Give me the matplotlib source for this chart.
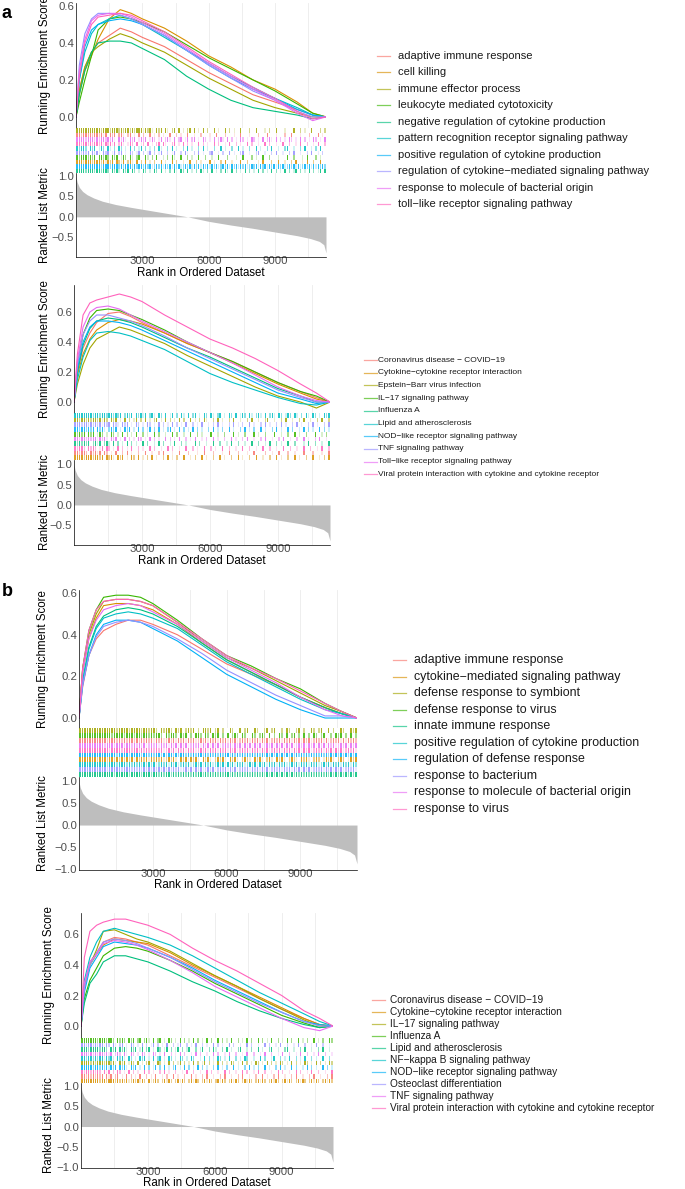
import matplotlib.pyplot as plt
from matplotlib.colors import to_rgba
from matplotlib.lines import Line2D

plt.rcParams['font.family'] = ['Liberation Sans', 'DejaVu Sans']

W, H = 685, 1189
N_GENES = 11300

# ggplot default hue palette for 10 groups
hue10 = ["#F8766D", "#D89000", "#A3A500", "#39B600", "#00BF7D",
         "#00BFC4", "#00B0F6", "#9590FF", "#E76BF3", "#FF62BC"]

es_ranks = [0, 150, 400, 700, 1000, 1500, 2000, 2500, 3000,
            4000, 5000, 6000, 7000, 8000, 9000, 10000, 10700, 11300]

# ranked list metric (same ranked list for every panel)
metric_ranks = [0, 50, 150, 300, 500, 800, 1200, 1800, 2500, 3500, 4500,
                5050, 6000, 7000, 8000, 9000, 10000, 10600, 11000, 11200, 11300]
metric_vals = [0.98, 0.85, 0.72, 0.62, 0.54, 0.46, 0.38, 0.30, 0.23, 0.14, 0.05,
               0.0, -0.11, -0.20, -0.28, -0.37, -0.46, -0.53, -0.60, -0.68, -0.88]

terms_a1 = ["adaptive immune response", "cell killing", "immune effector process",
            "leukocyte mediated cytotoxicity",
            "negative regulation of cytokine production",
            "pattern recognition receptor signaling pathway",
            "positive regulation of cytokine production",
            "regulation of cytokine\u2212mediated signaling pathway",
            "response to molecule of bacterial origin",
            "toll\u2212like receptor signaling pathway"]
terms_a2 = ["Coronavirus disease \u2212 COVID\u221219",
            "Cytokine\u2212cytokine receptor interaction",
            "Epstein\u2212Barr virus infection", "IL\u221217 signaling pathway",
            "Influenza A", "Lipid and atherosclerosis",
            "NOD\u2212like receptor signaling pathway", "TNF signaling pathway",
            "Toll\u2212like receptor signaling pathway",
            "Viral protein interaction with cytokine and cytokine receptor"]
terms_b1 = ["adaptive immune response", "cytokine\u2212mediated signaling pathway",
            "defense response to symbiont", "defense response to virus",
            "innate immune response", "positive regulation of cytokine production",
            "regulation of defense response", "response to bacterium",
            "response to molecule of bacterial origin", "response to virus"]
terms_b2 = ["Coronavirus disease \u2212 COVID\u221219",
            "Cytokine\u2212cytokine receptor interaction",
            "IL\u221217 signaling pathway", "Influenza A", "Lipid and atherosclerosis",
            "NF\u2212kappa B signaling pathway",
            "NOD\u2212like receptor signaling pathway",
            "Osteoclast differentiation", "TNF signaling pathway",
            "Viral protein interaction with cytokine and cytokine receptor"]

# running enrichment scores, one row per term (legend order)
es_a1 = [
    [0, 0.15, 0.27, 0.35, 0.40, 0.44, 0.48, 0.46, 0.43, 0.38, 0.31, 0.24, 0.18, 0.12, 0.08, 0.04, 0.01, 0],
    [0, 0.12, 0.25, 0.33, 0.42, 0.53, 0.58, 0.56, 0.53, 0.48, 0.41, 0.33, 0.27, 0.20, 0.15, 0.08, 0.02, 0],
    [0, 0.14, 0.27, 0.35, 0.38, 0.42, 0.45, 0.43, 0.40, 0.35, 0.28, 0.21, 0.15, 0.09, 0.05, 0.02, 0.00, 0],
    [0, 0.08, 0.20, 0.33, 0.47, 0.53, 0.54, 0.53, 0.51, 0.46, 0.39, 0.32, 0.26, 0.20, 0.14, 0.07, 0.02, 0],
    [0, 0.12, 0.25, 0.35, 0.40, 0.41, 0.41, 0.40, 0.37, 0.31, 0.22, 0.15, 0.09, 0.05, 0.03, 0.01, -0.01, 0],
    [0, 0.20, 0.35, 0.45, 0.50, 0.53, 0.55, 0.53, 0.50, 0.43, 0.36, 0.29, 0.22, 0.16, 0.10, 0.05, 0.01, 0],
    [0, 0.20, 0.38, 0.47, 0.50, 0.52, 0.53, 0.52, 0.50, 0.44, 0.36, 0.28, 0.21, 0.15, 0.10, 0.04, 0.01, 0],
    [0, 0.28, 0.45, 0.53, 0.56, 0.56, 0.55, 0.53, 0.50, 0.44, 0.36, 0.28, 0.21, 0.14, 0.09, 0.03, 0.00, 0],
    [0, 0.25, 0.42, 0.52, 0.55, 0.56, 0.56, 0.54, 0.51, 0.45, 0.37, 0.29, 0.22, 0.15, 0.09, 0.02, -0.02, 0],
    [0, 0.22, 0.40, 0.50, 0.54, 0.55, 0.56, 0.55, 0.52, 0.46, 0.38, 0.30, 0.23, 0.16, 0.10, 0.03, -0.01, 0],
]
es_a2 = [
    [0, 0.20, 0.36, 0.46, 0.53, 0.59, 0.60, 0.57, 0.53, 0.46, 0.39, 0.33, 0.27, 0.20, 0.13, 0.07, 0.03, 0],
    [0, 0.18, 0.32, 0.42, 0.48, 0.53, 0.55, 0.54, 0.52, 0.46, 0.39, 0.33, 0.26, 0.19, 0.12, 0.06, 0.02, 0],
    [0, 0.12, 0.25, 0.36, 0.42, 0.46, 0.50, 0.48, 0.45, 0.39, 0.31, 0.24, 0.17, 0.10, 0.04, 0.00, -0.04, 0],
    [0, 0.25, 0.45, 0.56, 0.61, 0.62, 0.61, 0.58, 0.55, 0.48, 0.40, 0.33, 0.27, 0.20, 0.13, 0.07, 0.04, 0],
    [0, 0.20, 0.38, 0.49, 0.54, 0.56, 0.55, 0.53, 0.50, 0.43, 0.36, 0.30, 0.23, 0.16, 0.09, 0.04, 0.00, 0],
    [0, 0.15, 0.30, 0.41, 0.46, 0.47, 0.46, 0.44, 0.41, 0.35, 0.27, 0.19, 0.13, 0.08, 0.03, -0.01, -0.02, 0],
    [0, 0.22, 0.40, 0.50, 0.54, 0.54, 0.53, 0.51, 0.48, 0.41, 0.34, 0.27, 0.20, 0.13, 0.06, 0.02, -0.01, 0],
    [0, 0.25, 0.45, 0.54, 0.58, 0.58, 0.56, 0.54, 0.51, 0.44, 0.36, 0.29, 0.22, 0.15, 0.08, 0.03, 0.00, 0],
    [0, 0.28, 0.50, 0.60, 0.63, 0.64, 0.62, 0.58, 0.54, 0.47, 0.40, 0.33, 0.26, 0.18, 0.10, 0.04, 0.01, 0],
    [0, 0.32, 0.58, 0.66, 0.68, 0.70, 0.72, 0.70, 0.67, 0.58, 0.50, 0.42, 0.36, 0.29, 0.21, 0.12, 0.06, 0],
]
es_b1 = [
    [0, 0.15, 0.30, 0.38, 0.42, 0.45, 0.47, 0.47, 0.45, 0.40, 0.33, 0.26, 0.21, 0.16, 0.10, 0.05, 0.02, 0],
    [0, 0.22, 0.38, 0.48, 0.54, 0.55, 0.55, 0.54, 0.52, 0.45, 0.36, 0.28, 0.22, 0.16, 0.10, 0.05, 0.02, 0],
    [0, 0.24, 0.40, 0.50, 0.56, 0.57, 0.57, 0.56, 0.54, 0.46, 0.37, 0.29, 0.24, 0.18, 0.12, 0.06, 0.03, 0],
    [0, 0.24, 0.42, 0.52, 0.58, 0.59, 0.59, 0.58, 0.55, 0.47, 0.38, 0.30, 0.25, 0.19, 0.14, 0.07, 0.03, 0],
    [0, 0.18, 0.34, 0.44, 0.49, 0.52, 0.53, 0.52, 0.50, 0.44, 0.36, 0.28, 0.22, 0.16, 0.10, 0.05, 0.02, 0],
    [0, 0.18, 0.33, 0.43, 0.48, 0.50, 0.51, 0.50, 0.48, 0.43, 0.35, 0.27, 0.21, 0.15, 0.09, 0.04, 0.02, 0],
    [0, 0.16, 0.30, 0.40, 0.45, 0.47, 0.47, 0.46, 0.43, 0.37, 0.29, 0.21, 0.15, 0.09, 0.04, 0.00, 0.00, 0],
    [0, 0.16, 0.30, 0.39, 0.44, 0.46, 0.47, 0.46, 0.44, 0.38, 0.31, 0.23, 0.17, 0.11, 0.06, 0.01, 0.01, 0],
    [0, 0.22, 0.38, 0.47, 0.52, 0.54, 0.55, 0.54, 0.51, 0.45, 0.37, 0.29, 0.23, 0.17, 0.10, 0.04, 0.01, 0],
    [0, 0.24, 0.42, 0.52, 0.56, 0.57, 0.57, 0.56, 0.54, 0.46, 0.38, 0.30, 0.24, 0.19, 0.13, 0.07, 0.03, 0],
]
es_b2 = [
    [0, 0.28, 0.42, 0.48, 0.55, 0.58, 0.57, 0.55, 0.53, 0.46, 0.39, 0.32, 0.25, 0.18, 0.11, 0.05, 0.01, 0],
    [0, 0.25, 0.40, 0.47, 0.53, 0.57, 0.56, 0.55, 0.54, 0.48, 0.40, 0.33, 0.26, 0.19, 0.12, 0.05, 0.01, 0],
    [0, 0.25, 0.40, 0.50, 0.62, 0.63, 0.60, 0.57, 0.55, 0.49, 0.41, 0.33, 0.26, 0.18, 0.11, 0.04, 0.00, 0],
    [0, 0.18, 0.30, 0.38, 0.46, 0.51, 0.52, 0.51, 0.49, 0.43, 0.36, 0.28, 0.21, 0.14, 0.07, 0.02, -0.01, 0],
    [0, 0.15, 0.28, 0.34, 0.42, 0.46, 0.46, 0.44, 0.42, 0.36, 0.29, 0.23, 0.16, 0.10, 0.05, 0.01, -0.01, 0],
    [0, 0.30, 0.45, 0.55, 0.62, 0.64, 0.62, 0.60, 0.58, 0.53, 0.46, 0.38, 0.30, 0.22, 0.15, 0.08, 0.03, 0],
    [0, 0.22, 0.38, 0.45, 0.52, 0.55, 0.54, 0.53, 0.51, 0.45, 0.38, 0.30, 0.23, 0.16, 0.09, 0.03, 0.01, 0],
    [0, 0.25, 0.40, 0.48, 0.55, 0.57, 0.56, 0.54, 0.51, 0.45, 0.37, 0.29, 0.22, 0.15, 0.09, 0.03, 0.00, 0],
    [0, 0.28, 0.42, 0.47, 0.54, 0.56, 0.55, 0.53, 0.50, 0.43, 0.35, 0.26, 0.19, 0.12, 0.05, -0.01, -0.03, 0],
    [0, 0.45, 0.62, 0.66, 0.68, 0.70, 0.70, 0.68, 0.66, 0.60, 0.51, 0.43, 0.36, 0.28, 0.20, 0.10, 0.05, 0],
]

# gene-set hits, one digit per 100 ranks (0 = no hit, 9 = strong tick)
rug_a1 = [
    "9979989799 7959097908 9507905090 7009050705 0090070500 9005007000 5009000700 0500900050 0070009000 5000700900 0500070009 050",
    "9997999799 9795979097 5907950907 0905070090 5009070050 0900705000 9050070900 5000900700 0050900070 0900500709 0050900700 900",
    "9999999999 9799979997 9799797999 5979509790 9507909050 7909050907 0090500907 0500900070 0900050700 9000500090 0705009000 707",
    "9799979790 9979709790 5970950790 0950709005 0709500900 7050090070 0500900070 0050090007 0500900700 0500090070 0050900070 500",
    "9999799979 9799709795 0979097050 9705097090 5070950970 9050709507 0905070950 9070509070 5090705090 7050907059 0705090705 909",
    "9799709790 5970950709 7050907059 0705070950 0709050070 9050070905 0070090500 7009050070 0905007090 0500790050 0709005070 900",
    "9999999999 9799979997 9799979799 7979579795 9795979579 7959795979 5979579795 9795979579 7959795979 5979579795 9579795959 797",
    "9979790979 5097905907 9050970590 7059070590 0705900709 5007090500 7900507009 0500790050 0790050070 9005007090 0500709005 070",
    "9999799979 7997979509 7950979059 7905970590 7950907905 9079050970 5090795090 7050970509 7050907950 9070509705 0907050970 509",
    "9979979799 7959795907 9505970905 7090507909 5007905090 7050090705 0090700509 0070500907 0050090700 5009007005 0900700509 007",
]
rug_a2 = [
    "9979970979 5909705090 0709050070 0900500709 0005009000 7000500900 0700050090 0070005009 0000700500 9000700500 0900070005 009",
    "9999799979 9790979509 7905097090 5070905007 0905070090 0507009050 0700905007 0090500700 9005007009 0500700905 0070090050 709",
    "9979979799 7959709790 5090705907 0905079050 9070509070 0905070950 0709050070 9005007090 0500790050 0709005007 0900500709 007",
    "9797909790 5970509705 0907050900 7050090700 5009070050 0900705000 9005007000 9050070009 0500700090 0500700905 0070009005 070",
    "9797979079 5907950907 0509070500 9070050907 0050900705 0009070050 0900700509 0070050090 0700509007 0500900700 0509007005 009",
    "9999999979 9799799797 9079790979 5907950970 9059070950 9079050970 9507905097 0905970950 7950907950 9705970950 7095097050 979",
    "9979979790 9795079790 5097905090 7059070905 0790509070 5090705007 0905070090 5007090507 0090500709 0500907005 0907050090 705",
    "9997997979 7959790975 0979050970 5097050907 0509070509 0070509005 0709050070 9050700905 0070905007 0905007090 5007090500 709",
    "9979979799 5979509790 5090705097 0509070500 9070509007 0509005070 0905007009 0500709005 0070900500 7090050070 0905007090 050",
    "9799709797 0590970509 0705090070 5009070050 0907005009 0070500900 7050090070 0500900700 5009007005 0090070050 0900700509 007",
]
rug_b1 = [
    "9999999999 9799979797 9979797979 5979579795 9795979579 7959795979 5979579795 9795979579 7959795979 5979579795 9579795959 797",
    "9999999799 9799797979 7959797959 7979579795 0979597950 9795079795 0979507975 0979507950 9795079750 9795079705 9795079705 979",
    "9999999999 9999979999 7999979979 9709799709 7907979070 9979079070 0970090790 0970079079 0070970079 0700970790 0907009700 979",
    "9999999999 9997999979 9979979979 7997097997 0979070997 0970979070 9079709700 9707970907 0970907907 0907097079 0070979070 907",
    "9999999999 9999799999 7999979997 9979799797 9797979799 7979797979 9797979797 9797979797 9797979797 9797979797 9797979797 979",
    "9999999999 9799979997 9797979797 9579795979 5797957979 5979579795 9795979579 7959795979 5979579795 9795979579 7959795979 597",
    "9999999999 9999979999 7999979979 7997979979 7997979799 7979797979 9797979797 9797979797 9797979797 9797979797 9797979797 979",
    "9999999999 9799999799 9797979797 9797979797 9579795979 5797957979 5979579795 9795979579 7959795979 5979579795 9795979579 795",
    "9999999999 7999799979 9797979579 7959795979 5979579795 9795979579 7959795979 5979579795 9795979579 7959795979 5979579795 979",
    "9999999999 9979999799 9799797979 7979579795 9795979579 7959795979 5979579795 9795979579 7959795979 5979579795 9795979579 795",
]
rug_b2 = [
    "9979797979 0959079050 9070509007 0509005070 0905007009 0500709005 0070900500 7090050070 0905007090 0500709005 0070900500 709",
    "9999999979 9799979797 9579795970 9579707959 7079597079 5970795970 7959707959 7079597079 5970795970 7959707959 7079597079 597",
    "9999797999 7997950979 0597090507 9050970509 0705907050 9070590705 0907050970 5090705097 0509070509 7050907050 9705090705 097",
    "9999999799 9799709797 0979079079 5090790509 7050907050 9070509070 0907050900 7050907009 0705090070 5090700905 0700905070 097",
    "9997999979 9709790979 5097905907 9050970590 7059070590 0705900709 5007090500 7900507009 0500790050 0790050070 9005007090 050",
    "9979979799 5979509795 0970509790 5090790509 7050970509 7005090705 0970509007 0509700500 9070059007 0509007050 9007050090 070",
    "9999979979 7959790979 5097905090 7059070905 0790509070 5090705007 0905070090 5007090507 0090500709 0500907005 0907050090 705",
    "9979979799 5970950790 5097050907 0590705090 0705900705 0900705009 0705009070 0500907005 0090700509 0070050900 7005090070 050",
    "9997979799 7959079709 5097050970 5097050900 7050907005 0907005009 0700509007 0050900700 5090070050 9007005090 0700509007 005",
    "9799797970 9590709705 0907050090 7050070905 0070050900 7005009070 0500907005 0090700509 0070050090 7005009070 0509007005 009",
]

# top-to-bottom order of rug rows (index into legend order)
rug_order_a1 = [2, 0, 8, 9, 5, 7, 3, 1, 6, 4]
rug_order_a2 = [5, 2, 7, 6, 3, 8, 4, 9, 0, 1]
rug_order_b1 = [2, 3, 0, 8, 9, 6, 1, 5, 7, 4]
rug_order_b2 = [3, 7, 4, 8, 5, 2, 6, 9, 0, 1]

TICK_GREY = "#4D4D4D"
GRID = "#EBEBEB"
TICK_SIZE = 8.2
TITLE_SIZE = 8.3


def box(x0, y0, x1, y1):
    return [x0 / W, 1 - y1 / H, (x1 - x0) / W, (y1 - y0) / H]


def num(v):
    return ("%.1f" % v).replace("-", "\u2212")


def vgrid(ax):
    for r in range(1500, N_GENES, 1500):
        ax.axvline(r, color=GRID, lw=0.6, zorder=0)


def gsea_panel(fig, px, es, rug, order, es_lim, rk_lim, rk_ticks, ylab_x):
    x0, x1, top, b_es, b_rug, b_rk = px

    # running enrichment score
    ax = fig.add_axes(box(x0, top, x1, b_es))
    vgrid(ax)
    for i, vals in enumerate(es):
        ax.plot(es_ranks, vals, color=hue10[i], lw=0.8)
    ax.set_xlim(0, N_GENES)
    ax.set_ylim(*es_lim)
    es_ticks = [0, 0.2, 0.4, 0.6]
    ax.set_yticks(es_ticks)
    ax.set_yticklabels([num(v) for v in es_ticks])
    ax.set_xticks([])
    for s in ["top", "right", "bottom"]:
        ax.spines[s].set_visible(False)
    ax.spines["left"].set_linewidth(0.5)
    ax.tick_params(axis="y", length=0, pad=1.5, labelsize=TICK_SIZE,
                   labelcolor=TICK_GREY)
    fig.text(ylab_x / W, 1 - (top + b_es) / 2 / H, "Running Enrichment Score",
             rotation=90, ha="center", va="center", fontsize=TITLE_SIZE)

    # hit rug: each row is a band of 100-rank cells, opacity = hit strength
    ax = fig.add_axes(box(x0, b_es, x1, b_rug))
    n = len(order)
    for k, t in enumerate(order):
        s = rug[t].replace(" ", "")
        segs, cols = [], []
        for i, ch in enumerate(s):
            if ch != "0":
                segs.append((i * 100 + 20, 60))
                cols.append(to_rgba(hue10[t], (int(ch) / 9) ** 2.5 * 0.85))
        ax.broken_barh(segs, (n - k - 1, 1), facecolors=cols, lw=0)
    ax.set_xlim(0, N_GENES)
    ax.set_ylim(0, n)
    ax.axis("off")

    # ranked list metric
    ax = fig.add_axes(box(x0, b_rug, x1, b_rk))
    vgrid(ax)
    ax.fill_between(metric_ranks, 0, metric_vals, color="#BEBEBE", lw=0)
    ax.set_xlim(0, N_GENES)
    ax.set_ylim(*rk_lim)
    ax.set_yticks(rk_ticks)
    ax.set_yticklabels([num(v) for v in rk_ticks])
    ax.set_xticks([3000, 6000, 9000])
    for s in ["top", "right"]:
        ax.spines[s].set_visible(False)
    ax.spines["left"].set_linewidth(0.5)
    ax.spines["bottom"].set_linewidth(0.5)
    ax.tick_params(length=0, pad=1.5, labelsize=TICK_SIZE, labelcolor=TICK_GREY)
    ax.tick_params(axis="x", pad=-0.5)
    fig.text(ylab_x / W, 1 - (b_rug + b_rk) / 2 / H, "Ranked List Metric",
             rotation=90, ha="center", va="center", fontsize=TITLE_SIZE)
    fig.text((x0 + x1) / 2 / W, 1 - (b_rk + 15.5) / H, "Rank in Ordered Dataset",
             ha="center", va="center", fontsize=TITLE_SIZE)


def legend(fig, terms, x_line, x_text, y0, step, size):
    for i, term in enumerate(terms):
        y = 1 - (y0 + i * step) / H
        fig.add_artist(Line2D([x_line / W, (x_line + 13) / W], [y, y],
                              color=hue10[i], lw=0.9, alpha=0.65))
        fig.text(x_text / W, y, term, fontsize=size, ha="left", va="center",
                 color="#1A1A1A")


fig = plt.figure(figsize=(W / 100, H / 100), dpi=100)

gsea_panel(fig, (76, 326, 3, 128, 173, 257), es_a1, rug_a1, rug_order_a1,
           (-0.06, 0.616), (-0.98, 1.07), [-0.5, 0, 0.5, 1.0], 45)
legend(fig, terms_a1, 377, 398, 56, 16.45, 8)

gsea_panel(fig, (74, 330, 285, 413, 460, 545), es_a2, rug_a2, rug_order_a2,
           (-0.073, 0.78), (-0.98, 1.1), [-0.5, 0, 0.5, 1.0], 45)
legend(fig, terms_a2, 364, 378, 360, 12.7, 6)

gsea_panel(fig, (79, 357, 590, 728, 777, 870), es_b1, rug_b1, rug_order_b1,
           (-0.048, 0.615), (-1.02, 1.09), [-1.0, -0.5, 0, 0.5, 1.0], 43)
legend(fig, terms_b1, 393, 414, 660, 16.55, 8.9)

gsea_panel(fig, (81, 333, 913, 1038, 1083, 1168), es_b2, rug_b2, rug_order_b2,
           (-0.078, 0.74), (-1.02, 1.07), [-1.0, -0.5, 0, 0.5, 1.0], 49)
legend(fig, terms_b2, 372, 390, 1000, 12.0, 7.3)

fig.text(2 / W, 1 - 13 / H, "a", fontsize=13, fontweight="bold", va="center")
fig.text(2 / W, 1 - 592 / H, "b", fontsize=13, fontweight="bold", va="center")

fig.savefig("out.png", dpi=100)
